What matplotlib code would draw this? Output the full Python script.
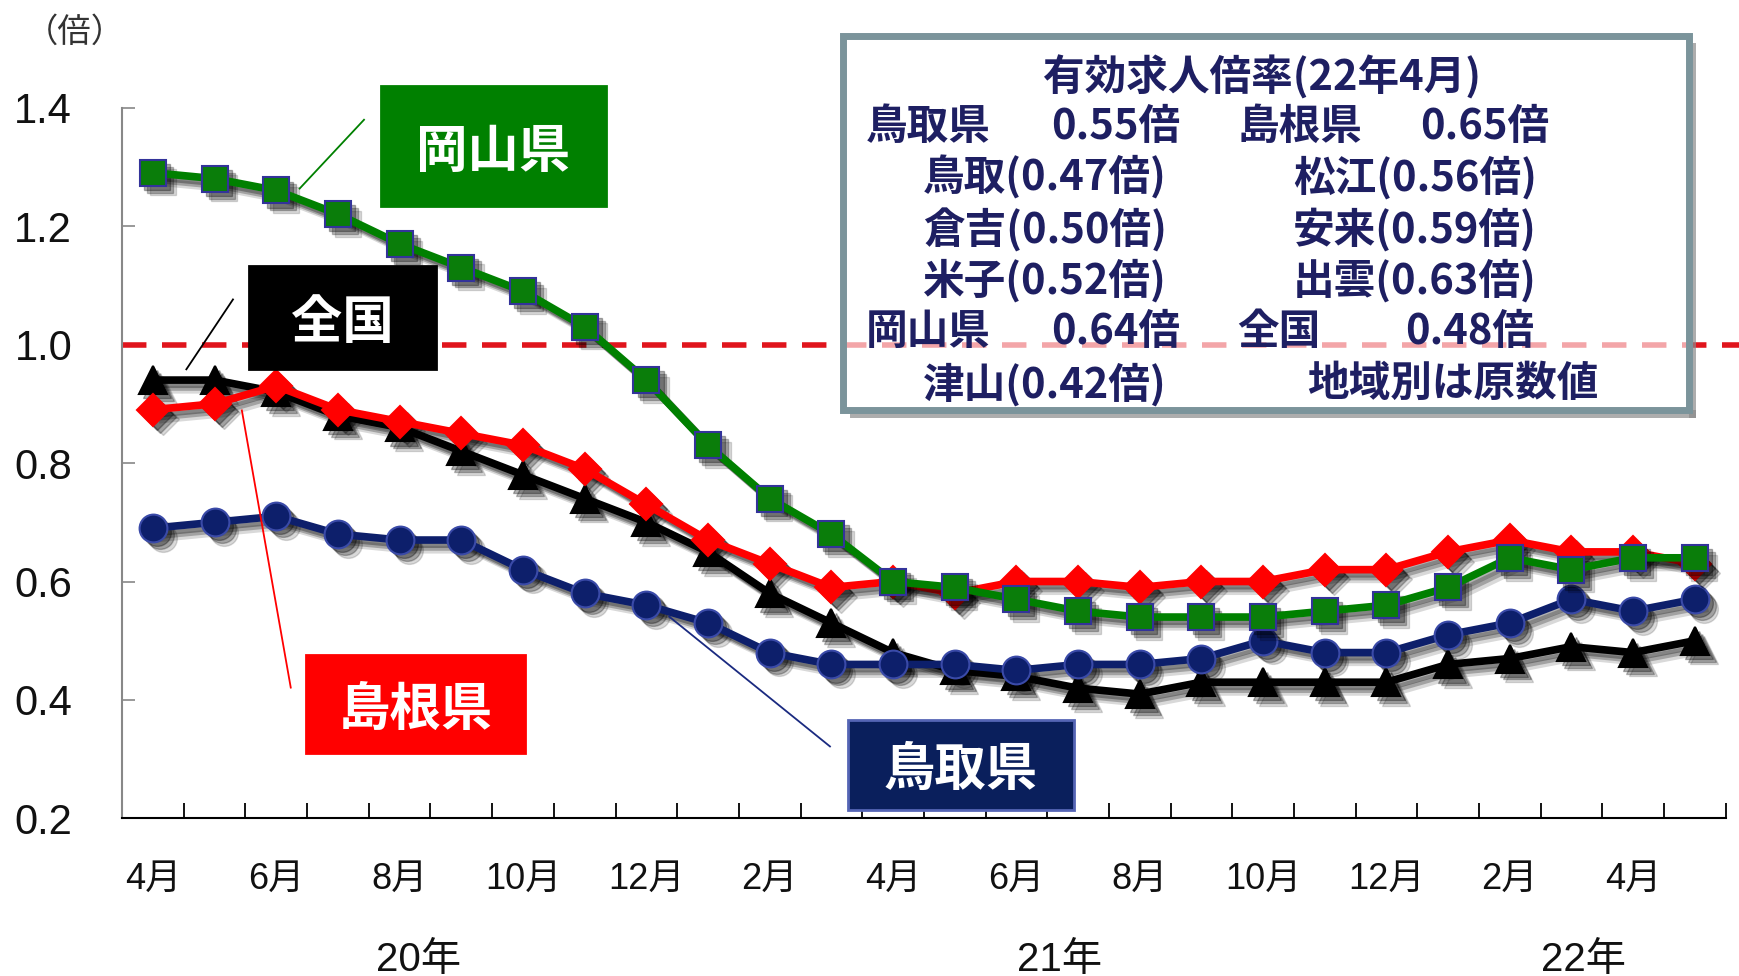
import matplotlib
matplotlib.use("Agg")
import matplotlib.pyplot as plt
from matplotlib.patches import Rectangle
from matplotlib.lines import Line2D
from matplotlib.transforms import ScaledTranslation, blended_transform_factory

# ---------------- data ----------------
months = ["4月", "5月", "6月", "7月", "8月", "9月", "10月", "11月", "12月", "1月", "2月", "3月",
          "4月", "5月", "6月", "7月", "8月", "9月", "10月", "11月", "12月", "1月", "2月", "3月",
          "4月", "5月"]
years = ["20年", "21年", "22年"]
year_centers = [4.3, 14.7, 23.2]

okayama = [1.29, 1.28, 1.26, 1.22, 1.17, 1.13, 1.09, 1.03, 0.94, 0.83, 0.74, 0.68, 0.60,
           0.59, 0.57, 0.55, 0.54, 0.54, 0.54, 0.55, 0.56, 0.59, 0.64, 0.62, 0.64, 0.64]
shimane = [0.89, 0.90, 0.93, 0.89, 0.87, 0.85, 0.83, 0.79, 0.73, 0.67, 0.63, 0.59, 0.60,
           0.58, 0.60, 0.60, 0.59, 0.60, 0.60, 0.62, 0.62, 0.65, 0.67, 0.65, 0.65, 0.63]
tottori = [0.69, 0.70, 0.71, 0.68, 0.67, 0.67, 0.62, 0.58, 0.56, 0.53, 0.48, 0.46, 0.46,
           0.46, 0.45, 0.46, 0.46, 0.47, 0.50, 0.48, 0.48, 0.51, 0.53, 0.57, 0.55, 0.57]
zenkoku = [0.94, 0.94, 0.92, 0.88, 0.86, 0.82, 0.78, 0.74, 0.70, 0.65, 0.58, 0.53, 0.48,
           0.45, 0.44, 0.42, 0.41, 0.43, 0.43, 0.43, 0.43, 0.46, 0.47, 0.49, 0.48, 0.50]

yticks = [0.2, 0.4, 0.6, 0.8, 1.0, 1.2, 1.4]
ref_level = 1.0

info_title = "有効求人倍率(22年4月)"
info_rows = [
    [("鳥取県", 0.4974), ("0.55倍", 0.604), ("島根県", 0.7111), ("0.65倍", 0.8163)],
    [("鳥取(0.47倍)", 0.5306), ("松江(0.56倍)", 0.743)],
    [("倉吉(0.50倍)", 0.5306), ("安来(0.59倍)", 0.743)],
    [("米子(0.52倍)", 0.5306), ("出雲(0.63倍)", 0.743)],
    [("岡山県", 0.4974), ("0.64倍", 0.604), ("全国", 0.7111), ("0.48倍", 0.8074)],
    [("津山(0.42倍)", 0.5306), ("地域別は原数値", 0.7513)],
]
info_row_y = [0.8699, 0.8176, 0.7642, 0.7119, 0.6596, 0.6062]

# ---------------- fonts ----------------
CJK = "Noto Sans CJK JP"
LAT = "Liberation Sans"
FAM = [LAT, CJK]
plt.rcParams["font.family"] = FAM

# ---------------- figure ----------------
fig = plt.figure(figsize=(17.4, 9.76), dpi=100)
fig.patch.set_facecolor("white")
ax = fig.add_axes([0.0702, 0.1614, 0.9215, 0.7284])

x = list(range(len(months)))

series = [
    # data, line color, marker, size, face, edge, zorder
    (zenkoku, "#000000", "^", 20, "#000000", "#000000", 3),
    (tottori, "#0d1f6b", "o", 20, "#0d1f6b", "#3a4aa8", 4),
    (shimane, "#ff0000", "D", 16, "#ff0000", "#ff0000", 5),
    (okayama, "#008000", "s", 19, "#0a7d0a", "#33339a", 6),
]

for data, col, mk, ms, fc, ec, z in series:
    for off, a in ((7, 0.15), (5, 0.25), (3, 0.3)):
        tr = ax.transData + ScaledTranslation(off / 72, -off / 72, fig.dpi_scale_trans)
        ax.plot(x, data, color="black", lw=5.5, marker=mk, markersize=ms,
                markerfacecolor="black", markeredgecolor="black", alpha=a,
                transform=tr, zorder=z - 0.5, solid_joinstyle="round")
    ax.plot(x, data, color=col, lw=5.5, marker=mk, markersize=ms,
            markerfacecolor=fc, markeredgecolor=ec, markeredgewidth=1.5,
            zorder=z, solid_joinstyle="round")

# reference line at 1.0
ax.axhline(ref_level, xmin=0, xmax=1.012, color="#e0141c", lw=4,
           linestyle=(0, (4.4, 2.8)), clip_on=False, zorder=2)

ax.set_xlim(-0.5, len(months) - 0.5)
ax.set_ylim(0.2, 1.4)

ax.set_yticks(yticks)
ax.set_yticklabels([f"{v:.1f}" for v in yticks], fontsize=30, family=LAT, color="#111111")
ax.tick_params(axis="y", direction="in", length=9, width=1.2, color="#888888", pad=36)

ax.set_xticks(x[::2])
ax.set_xticklabels(months[::2], fontsize=26, family=FAM, color="#111111")
ax.set_xticks([i + 0.5 for i in x], minor=True)
ax.tick_params(axis="x", which="major", length=0, pad=31)
ax.tick_params(axis="x", which="minor", direction="in", length=11, width=1.3, color="black")

for s in ("top", "right"):
    ax.spines[s].set_visible(False)
ax.spines["left"].set_color("#888888")
ax.spines["left"].set_linewidth(1.5)
ax.spines["bottom"].set_color("black")
ax.spines["bottom"].set_linewidth(1.5)
ax.set_facecolor("none")

# year labels
btr = blended_transform_factory(ax.transData, fig.transFigure)
for xc, yl in zip(year_centers, years):
    ax.text(xc, 0.016, yl, transform=btr, ha="center", va="center",
            fontsize=29, family=FAM, color="#111111")

# unit label
fig.text(0.043, 0.967, "（倍）", ha="center", va="center", fontsize=24,
         family=[CJK], color="#333333")

# ---------------- info box ----------------
bx0, by0, bw, bh = 0.4847, 0.5795, 0.486, 0.3841
sh = 0.004
fig.patches.append(Rectangle((bx0 + sh, by0 - 2 * sh), bw, 2 * sh, transform=fig.transFigure,
                             facecolor="#8a8a8a", edgecolor="none", alpha=0.7, zorder=5))
fig.patches.append(Rectangle((bx0 + bw, by0 - 2 * sh), sh, bh, transform=fig.transFigure,
                             facecolor="#8a8a8a", edgecolor="none", alpha=0.7, zorder=5))
fig.patches.append(Rectangle((bx0, by0), bw, bh, transform=fig.transFigure,
                             facecolor=(1, 1, 1, 0.62), edgecolor="#7b949b", lw=5, zorder=6))
navy_txt = "#1e1f62"
fig.text(0.7251, 0.921, info_title, ha="center", va="center", fontsize=30,
         fontweight="bold", family=[CJK], color=navy_txt, zorder=7)
for ry, row in zip(info_row_y, info_rows):
    for txt, tx in row:
        fig.text(tx, ry, txt, ha="left", va="center", fontsize=30, fontweight="bold",
                 family=[CJK], color=navy_txt, zorder=7)

# ---------------- series label boxes ----------------
labels = [
    ("岡山県", (0.2188, 0.7886, 0.1294, 0.1228), "#008000", "#008000",
     ((0.1722, 0.8068), (0.2092, 0.8773)), "#008000"),
    ("全国", (0.1429, 0.6216, 0.1077, 0.1057), "#000000", "#000000",
     ((0.1071, 0.6216), (0.1339, 0.6932)), "#000000"),
    ("島根県", (0.176, 0.2284, 0.1257, 0.1000), "#ff0000", "#ff0000",
     ((0.139, 0.5795), (0.1671, 0.2955)), "#ff0000"),
    ("鳥取県", (0.4872, 0.1705, 0.1301, 0.0920), "#0a1f5c", "#5565b5",
     ((0.3846, 0.3682), (0.477, 0.2352)), "#1a2a80"),
]
for txt, (lx, ly, lw_, lh), fc, ec, (p0, p1), lc in labels:
    fig.add_artist(Line2D([p0[0], p1[0]], [p0[1], p1[1]], transform=fig.transFigure,
                          color=lc, lw=1.3, zorder=8))
    fig.patches.append(Rectangle((lx, ly), lw_, lh, transform=fig.transFigure,
                                 facecolor=fc, edgecolor=ec, lw=2, zorder=9))
    fig.text(lx + lw_ / 2, ly + lh / 2 - 0.005, txt, ha="center", va="center", fontsize=37,
             fontweight="bold", family=[CJK], color="white", zorder=10)

fig.savefig("out.png", dpi=100)
